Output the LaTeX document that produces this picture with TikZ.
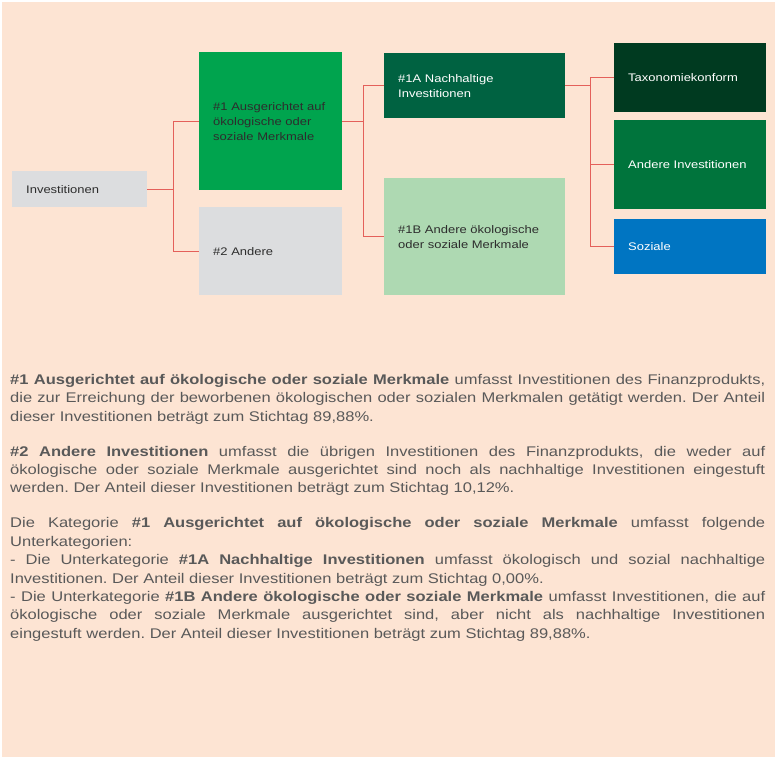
\documentclass[tikz,border=0pt]{standalone}
\usepackage{fontspec}
\setmainfont{Liberation Sans}[FakeStretch=1.18]
\usetikzlibrary{positioning}
\frenchspacing

\definecolor{pagepeach}{RGB}{253,228,211}
\definecolor{boxgray}{RGB}{220,221,223}
\definecolor{greenmid}{RGB}{0,164,78}
\definecolor{greendark}{RGB}{0,98,65}
\definecolor{greenlight}{RGB}{174,217,178}
\definecolor{greendeep}{RGB}{0,58,32}
\definecolor{greenother}{RGB}{0,116,60}
\definecolor{bluesoc}{RGB}{0,117,194}
\definecolor{linkred}{RGB}{228,96,90}
\definecolor{darktext}{RGB}{45,45,45}
\definecolor{bodygray}{RGB}{89,89,89}

\begin{document}
\begin{tikzpicture}[x=1pt, y=-1pt,
        box/.style={rectangle, anchor=north west, inner xsep=14pt, inner ysep=0pt, align=left, font=\fontsize{11}{15}\selectfont},
        link/.style={draw=linkred, line width=1.4pt}]
        \useasboundingbox (0,0) rectangle (775,758);
        \fill[white] (0,0) rectangle (775,758);
        \fill[pagepeach] (1.5,2) rectangle (775,757);

        % Nodes
        \node[box, fill=boxgray, text=darktext, minimum width=135pt, text width=107pt, minimum height=36pt] (inv) at (12,171) {Investitionen};
        \node[box, fill=greenmid, text=darktext, minimum width=143pt, text width=115pt, minimum height=138pt] (g1) at (199,52) {\#1 Ausgerichtet auf\\ökologische oder\\soziale Merkmale};
        \node[box, fill=boxgray, text=darktext, minimum width=143pt, text width=115pt, minimum height=88pt] (g2) at (199,207) {\#2 Andere};
        \node[box, fill=greendark, text=white, minimum width=181pt, text width=153pt, minimum height=65pt] (g1a) at (384,53) {\#1A Nachhaltige\\Investitionen};
        \node[box, fill=greenlight, text=darktext, minimum width=181pt, text width=153pt, minimum height=117pt] (g1b) at (384,178) {\#1B Andere ökologische\\oder soziale Merkmale};
        \node[box, fill=greendeep, text=white, minimum width=152pt, text width=124pt, minimum height=69pt] (tax) at (614,43) {Taxonomiekonform};
        \node[box, fill=greenother, text=white, minimum width=152pt, text width=124pt, minimum height=89pt] (other) at (614,120) {Andere Investitionen};
        \node[box, fill=bluesoc, text=white, minimum width=152pt, text width=124pt, minimum height=55pt] (social) at (614,219) {Soziale};

        % Arrows
        \draw[link] (inv.east) -- ++(26,0) coordinate (j1) |- (g1.west);
        \draw[link] (j1) |- (g2.west);
        \draw[link] (g1.east) -- ++(21,0) coordinate (j2) |- (g1a.west);
        \draw[link] (j2) |- (g1b.west);
        \draw[link] (g1a.east) -- ++(25,0) coordinate (j3) |- (tax.west);
        \draw[link] (j3) |- (other.west);
        \draw[link] (j3) |- (social.west);

        % Text
        \node[anchor=north west, inner sep=0pt, text width=755pt, align=justify, text=bodygray,
              font=\fontsize{14}{18.4}\selectfont] (notes) at (10,374) {%
            \setlength{\parskip}{16.6pt}\tolerance=9999\hyphenpenalty=10000
            \textbf{\#1 Ausgerichtet auf ökologische oder soziale Merkmale} umfasst Investitionen des Finanzprodukts,\linebreak
            die zur Erreichung der beworbenen ökologischen oder sozialen Merkmalen getätigt werden. Der Anteil\linebreak
            dieser Investitionen beträgt zum Stichtag 89,88\%.\par
            \textbf{\#2 Andere Investitionen} umfasst die übrigen Investitionen des Finanzprodukts, die weder auf\linebreak
            ökologische oder soziale Merkmale ausgerichtet sind noch als nachhaltige Investitionen eingestuft\linebreak
            werden. Der Anteil dieser Investitionen beträgt zum Stichtag 10,12\%.\par
            Die Kategorie \textbf{\#1 Ausgerichtet auf ökologische oder soziale Merkmale} umfasst folgende\linebreak
            Unterkategorien:\\
            - Die Unterkategorie \textbf{\#1A Nachhaltige Investitionen} umfasst ökologisch und sozial nachhaltige\linebreak
            Investitionen. Der Anteil dieser Investitionen beträgt zum Stichtag 0,00\%.\\
            - Die Unterkategorie \textbf{\#1B Andere ökologische oder soziale Merkmale} umfasst Investitionen, die auf\linebreak
            ökologische oder soziale Merkmale ausgerichtet sind, aber nicht als nachhaltige Investitionen\linebreak
            eingestuft werden. Der Anteil dieser Investitionen beträgt zum Stichtag 89,88\%.};
    \end{tikzpicture}
\end{document}
